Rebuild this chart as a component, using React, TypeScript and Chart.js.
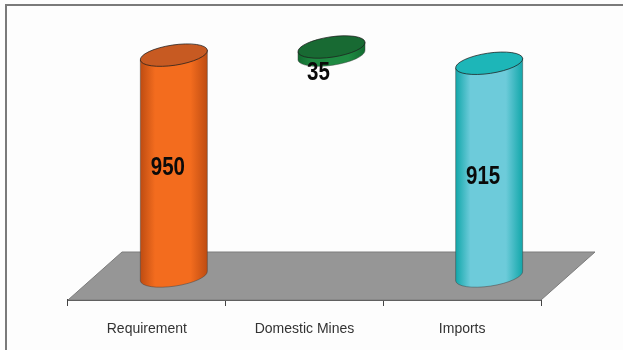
import React, { useEffect, useRef } from "react";
import { Chart, registerables } from "chart.js";

Chart.register(...registerables);

const categories = ["Requirement", "Domestic Mines", "Imports"];
const seriesBase = [0, 950, 0];
const seriesValues = [950, 35, 915];

const bodyMid = ["#F36C1E", "#1F8A42", "#6DCBDA"];
const bodyEdge = ["#BE4C12", "#116B30", "#12A7AA"];
const capFill = ["#C75A22", "#186A33", "#1DB6B8"];

// Floor depth and label placement for the pseudo-3D scene.
const DEPTH_X = 54;
const DEPTH_Y = 48;
const TILT = (8.5 * Math.PI) / 180;
const CAP_RATIO = 0.3;
const labelShift = [
  [-6, 3],
  [-13, 22],
  [-6, 7],
];

const scene = {
  id: "scene",
  beforeDraw(chart: any) {
    const { ctx } = chart;
    ctx.save();
    ctx.fillStyle = "#FDFDFD";
    ctx.fillRect(0, 0, chart.width, chart.height);
    ctx.strokeStyle = "#7A7A7A";
    ctx.lineWidth = 2;
    ctx.beginPath();
    ctx.moveTo(6, chart.height);
    ctx.lineTo(6, 5);
    ctx.lineTo(chart.width, 5);
    ctx.stroke();
    ctx.restore();
  },
  beforeDatasetsDraw(chart: any) {
    const { ctx, chartArea: a } = chart;
    ctx.save();
    ctx.fillStyle = "#969696";
    ctx.beginPath();
    ctx.moveTo(a.left, a.bottom);
    ctx.lineTo(a.left + DEPTH_X, a.bottom - DEPTH_Y);
    ctx.lineTo(a.right + DEPTH_X, a.bottom - DEPTH_Y);
    ctx.lineTo(a.right, a.bottom);
    ctx.closePath();
    ctx.fill();
    ctx.strokeStyle = "#7C7C7C";
    ctx.lineWidth = 1;
    ctx.stroke();
    ctx.restore();
  },
  beforeDatasetDraw(chart: any, args: any) {
    const { ctx } = chart;
    const meta = chart.getDatasetMeta(args.index);
    meta.data.forEach((bar: any, i: number) => {
      const { x, y, base, width } = bar.getProps(["x", "y", "base", "width"], true);
      const cx = x + DEPTH_X / 2;
      const top = y - DEPTH_Y / 2;
      const bottom = base - DEPTH_Y / 2;
      const rx = width / 2 / Math.cos(TILT);
      const ry = rx * CAP_RATIO;
      const dx = rx * Math.cos(TILT);
      const dy = rx * Math.sin(TILT);

      ctx.save();
      const grad = ctx.createLinearGradient(cx - dx, 0, cx + dx, 0);
      grad.addColorStop(0, bodyEdge[i]);
      grad.addColorStop(0.22, bodyMid[i]);
      grad.addColorStop(0.75, bodyMid[i]);
      grad.addColorStop(1, bodyEdge[i]);

      // Body: left edge, lower arc, right edge, then the cap on top.
      ctx.beginPath();
      ctx.moveTo(cx - dx, top + dy);
      ctx.lineTo(cx - dx, bottom + dy);
      ctx.ellipse(cx, bottom, rx, ry, -TILT, Math.PI, 0, true);
      ctx.lineTo(cx + dx, top - dy);
      ctx.closePath();
      ctx.fillStyle = grad;
      ctx.fill();
      ctx.strokeStyle = "rgba(60,60,60,0.45)";
      ctx.lineWidth = 1;
      ctx.stroke();

      ctx.beginPath();
      ctx.ellipse(cx, top, rx, ry, -TILT, 0, Math.PI * 2);
      ctx.fillStyle = capFill[i];
      ctx.fill();
      ctx.strokeStyle = "rgba(30,30,30,0.75)";
      ctx.stroke();

      // Value label, set narrow and tall.
      const [sx, sy] = labelShift[i];
      ctx.translate(cx + sx, (top + bottom) / 2 + sy);
      ctx.scale(0.82, 1);
      ctx.font = 'bold 25px "Liberation Sans", Arial, sans-serif';
      ctx.fillStyle = "#0A0A0A";
      ctx.textAlign = "center";
      ctx.textBaseline = "middle";
      ctx.fillText(String(seriesValues[i]), 0, 0);
      ctx.restore();
    });
    return false;
  },
};

export default function App() {
  const ref = useRef<HTMLCanvasElement>(null);
  useEffect(() => {
    const chart = new Chart(ref.current!, {
      type: "bar",
      data: {
        labels: categories,
        datasets: [
          {
            data: seriesValues.map((v, i) => [seriesBase[i], seriesBase[i] + v]) as any,
            backgroundColor: bodyMid,
            barPercentage: 0.425,
            categoryPercentage: 1,
          },
        ],
      },
      options: {
        responsive: false,
        animation: false,
        layout: { padding: { left: 68, right: 82, top: 21, bottom: 3 } },
        plugins: { legend: { display: false }, tooltip: { enabled: false } },
        scales: {
          x: {
            afterFit(scale: any) {
              scale.height = 47;
            },
            grid: {
              display: true,
              drawOnChartArea: false,
              drawTicks: true,
              tickLength: 6,
              color: "#444444",
            },
            border: { display: true, color: "#444444", width: 2 },
            ticks: {
              color: "#333333",
              font: { family: '"Liberation Sans", Arial, sans-serif', size: 14 },
              padding: 15,
              maxRotation: 0,
            },
          },
          y: { display: false, min: 0, max: 1200 },
        },
      },
      plugins: [scene],
    });
    return () => chart.destroy();
  }, []);
  return (
    <div style={{ position: "fixed", left: 0, top: 0 }}>
      <canvas ref={ref} width={623} height={350} style={{ display: "block" }} />
    </div>
  );
}
